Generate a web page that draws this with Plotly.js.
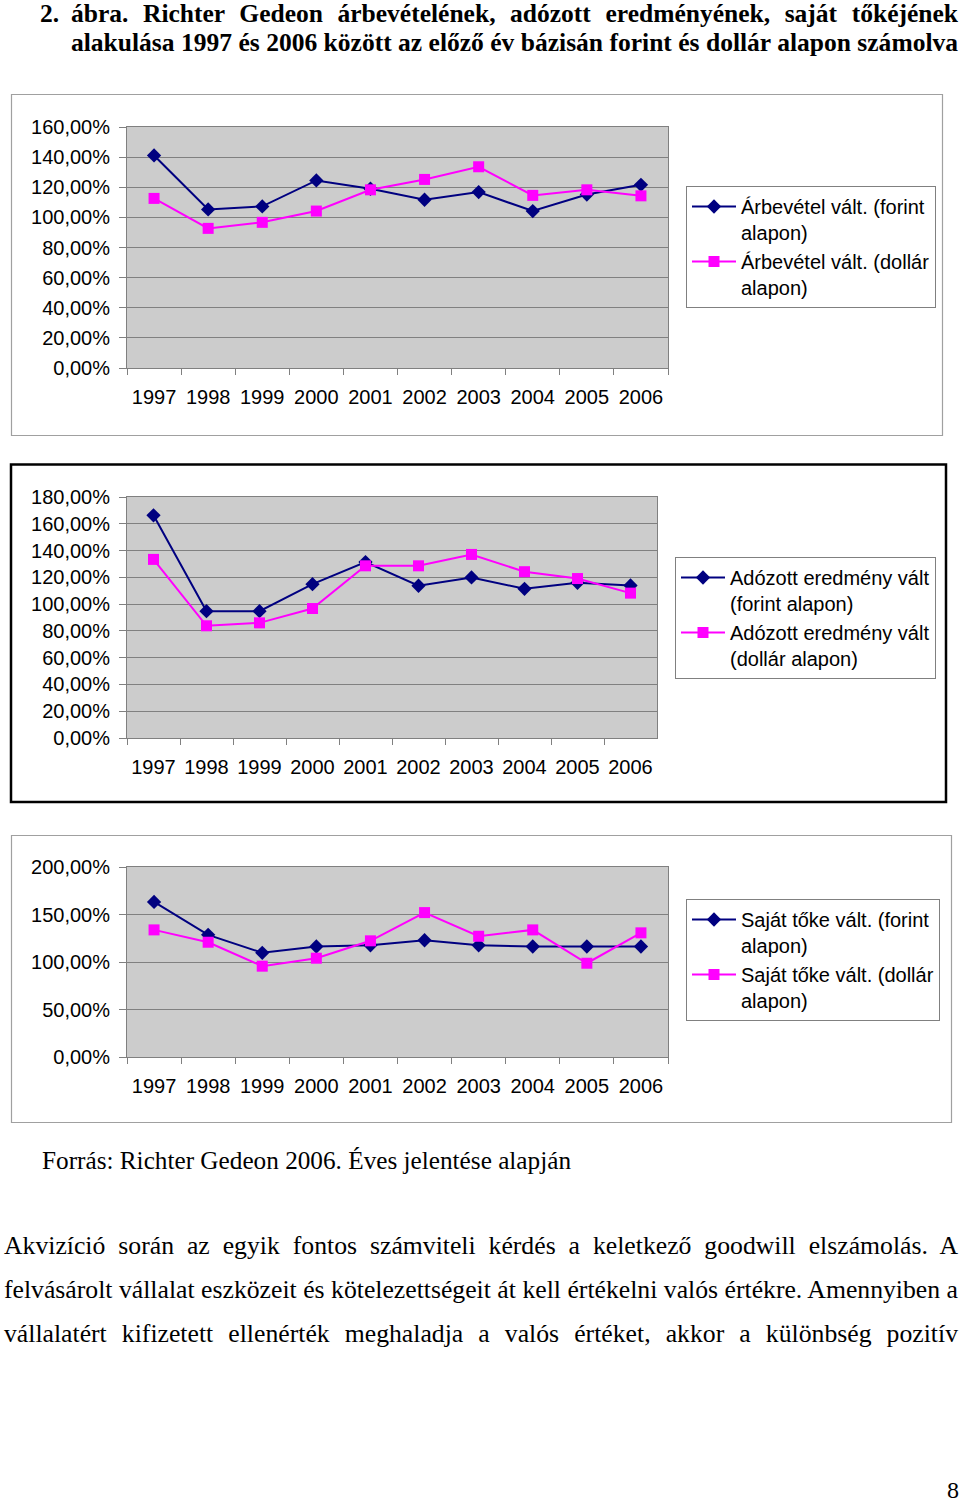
<!DOCTYPE html>
<html><head><meta charset="utf-8">
<script src="https://cdn.plot.ly/plotly-3.0.1.min.js"></script>
<style>
body{margin:0;background:#fff;}
#page{position:relative;width:960px;height:1503px;overflow:hidden;background:#fff;}
#chart{position:absolute;left:0;top:0;width:960px;height:1503px;}
.ln{position:absolute;white-space:nowrap;font-family:"Liberation Serif","Times New Roman",serif;color:#000;transform-origin:0 0;line-height:1;}
</style></head><body><div id="page"><div id="chart"></div></div>
<script>
// ---- data ----
const years = ['1997','1998','1999','2000','2001','2002','2003','2004','2005','2006'];
const revenueHuf = [141.1, 105.3, 107.3, 124.5, 119.0, 111.7, 116.8, 104.2, 115.2, 121.6];
const revenueUsd = [112.6, 92.7, 96.7, 104.2, 118.3, 125.2, 133.6, 114.6, 118.3, 114.3];
const profitHuf = [166.3, 94.7, 94.7, 114.9, 131.4, 113.7, 119.9, 111.4, 115.9, 113.9];
const profitUsd = [133.4, 83.8, 86.0, 96.7, 128.6, 128.6, 137.1, 124.2, 119.1, 108.2];
const equityHuf = [163.2, 128.6, 109.7, 116.3, 117.6, 122.9, 117.6, 116.3, 116.3, 116.3];
const equityUsd = [133.8, 120.8, 95.6, 104.0, 122.3, 152.0, 127.1, 133.8, 98.7, 130.7];
const legendNames = [
  'Árbevétel vált. (forint<br>alapon)', 'Árbevétel vált. (dollár<br>alapon)',
  'Adózott eredmény vált<br>(forint alapon)', 'Adózott eredmény vált<br>(dollár alapon)',
  'Saját tőke vált. (forint<br>alapon)', 'Saját tőke vált. (dollár<br>alapon)'
];
const titleLine1 = 'ábra. Richter Gedeon árbevételének, adózott eredményének, saját tőkéjének';
const titleLine2 = 'alakulása 1997 és 2006 között az előző év bázisán forint és dollár alapon számolva';
const sourceText = 'Forrás: Richter Gedeon 2006. Éves jelentése alapján';
const paraLines = [
  'Akvizíció során az egyik fontos számviteli kérdés a keletkező goodwill elszámolás. A',
  'felvásárolt vállalat eszközeit és kötelezettségeit át kell értékelni valós értékre. Amennyiben a',
  'vállalatért kifizetett ellenérték meghaladja a valós értéket, akkor a különbség pozitív'
];

// ---- layout helpers ----
const W = 960, H = 1503;
const px = x => x / W, py = y => 1 - y / H;
const NAVY = '#000080', MAG = '#FF00FF';
const sans = 'Liberation Sans, Arial, sans-serif';
const FS = 20;

function xax(l, r, anchor) {
  return {domain: [px(l), px(r)], anchor: anchor, type: 'category', tickson: 'boundaries',
    ticks: 'outside', ticklen: 6, tickcolor: '#808080', showline: true, linecolor: '#808080',
    mirror: true, showgrid: false, range: [-0.5, 9.5], fixedrange: true, tickangle: 0,
    tickfont: {family: sans, size: FS, color: '#000'}, ticklabelstandoff: 11};
}
function yax(t, b, anchor, max, dt) {
  return {domain: [py(b), py(t)], anchor: anchor, range: [0, max], dtick: dt, tick0: 0,
    tickformat: '.2f', ticksuffix: '%', ticks: 'outside', ticklen: 7, tickcolor: '#808080',
    showline: true, linecolor: '#808080', mirror: true, showgrid: true, gridcolor: '#808080',
    gridwidth: 1, zeroline: false, fixedrange: true,
    tickfont: {family: sans, size: FS, color: '#000'}, ticklabelstandoff: 5};
}
function tr(y, name, i, xa, ya, leg) {
  const huf = i === 0;
  return {x: years, y: y, name: name, type: 'scatter', mode: 'lines+markers', xaxis: xa, yaxis: ya,
    legend: leg, line: {color: huf ? NAVY : MAG, width: 2},
    marker: {symbol: huf ? 'diamond' : 'square', size: 11, color: huf ? NAVY : MAG}};
}
function leg(x, y) {
  return {x: px(x), y: py(y), xanchor: 'left', yanchor: 'top', bgcolor: '#fff',
    bordercolor: '#808080', borderwidth: 1, valign: 'top', itemwidth: 44,
    font: {family: sans, size: FS, color: '#000'}, tracegroupgap: 6};
}
function frame(x0, y0, x1, y1, color, w) {
  return {type: 'rect', xref: 'paper', yref: 'paper', x0: px(x0), x1: px(x1), y0: py(y1), y1: py(y0),
    line: {color: color, width: w}, fillcolor: 'rgba(0,0,0,0)', layer: 'below'};
}

const data = [
  tr(revenueHuf, legendNames[0], 0, 'x', 'y', 'legend'),
  tr(revenueUsd, legendNames[1], 1, 'x', 'y', 'legend'),
  tr(profitHuf, legendNames[2], 0, 'x2', 'y2', 'legend2'),
  tr(profitUsd, legendNames[3], 1, 'x2', 'y2', 'legend2'),
  tr(equityHuf, legendNames[4], 0, 'x3', 'y3', 'legend3'),
  tr(equityUsd, legendNames[5], 1, 'x3', 'y3', 'legend3')
];

const layout = {
  width: W, height: H, margin: {l: 0, r: 0, t: 0, b: 0, pad: 0},
  paper_bgcolor: '#fff', plot_bgcolor: '#cccccc', separators: ', ',
  showlegend: true,
  xaxis: xax(127, 668, 'y'), yaxis: yax(127, 368, 'x', 160, 20),
  xaxis2: xax(127, 657, 'y2'), yaxis2: yax(497, 738, 'x2', 180, 20),
  xaxis3: xax(127, 668, 'y3'), yaxis3: yax(867, 1057, 'x3', 200, 50),
  legend: leg(686, 186), legend2: leg(675, 557), legend3: leg(686, 899),
  shapes: [
    frame(11.5, 94.5, 942.5, 435.5, '#a0a0a0', 1.2),
    frame(11, 464.5, 946, 802, '#000', 2.5),
    frame(11.5, 835.5, 951.5, 1122.5, '#a0a0a0', 1.2)
  ]
};

Plotly.newPlot('chart', data, layout, {staticPlot: true, displayModeBar: false});

// ---- document text (HTML) ----
const page = document.getElementById('page');
function mk(text, x, size, bold) {
  const d = document.createElement('div');
  d.className = 'ln';
  d.textContent = text;
  d.style.fontSize = size + 'px';
  d.style.fontWeight = bold ? 'bold' : 'normal';
  d.style.left = x + 'px';
  page.appendChild(d);
  return d;
}
function place(d, baseline, size) { d.style.top = (baseline - 0.8375 * size) + 'px'; }
function justify(d, target) {
  const w = d.getBoundingClientRect().width;
  const spaces = (d.textContent.match(/ /g) || []).length;
  if (w < target && spaces > 0) d.style.wordSpacing = ((target - w) / spaces) + 'px';
  else if (w > target) d.style.transform = 'scaleX(' + (target / w) + ')';
}
// block of lines: font size chosen so that the reference line fills its width naturally
function block(lines, refIdx, x, baselines, target, bold, baseSize, minSize, maxSize) {
  const probe = mk(lines[refIdx], x, baseSize, bold);
  let size = baseSize * target / probe.getBoundingClientRect().width;
  page.removeChild(probe);
  size = Math.max(minSize, Math.min(maxSize, size));
  lines.forEach((t, i) => {
    const d = mk(t, x, size, bold);
    place(d, baselines[i], size);
    justify(d, target);
  });
  return size;
}
const tSize = block([titleLine1, titleLine2], 1, 71, [22, 51], 887, true, 24, 20, 27);
const n = mk('2.', 40, tSize, true); place(n, 22, tSize);
const s = mk(sourceText, 42, 25, false); place(s, 1169, 25);
const sw = s.getBoundingClientRect().width;
if (sw > 0) { s.style.transform = 'scaleX(' + (529 / sw) + ')'; }
block(paraLines, 1, 4, [1255, 1299, 1343], 954, false, 24, 20, 26);
const p8 = mk('8', 947, 24, false); place(p8, 1498, 24);
</script></body></html>
